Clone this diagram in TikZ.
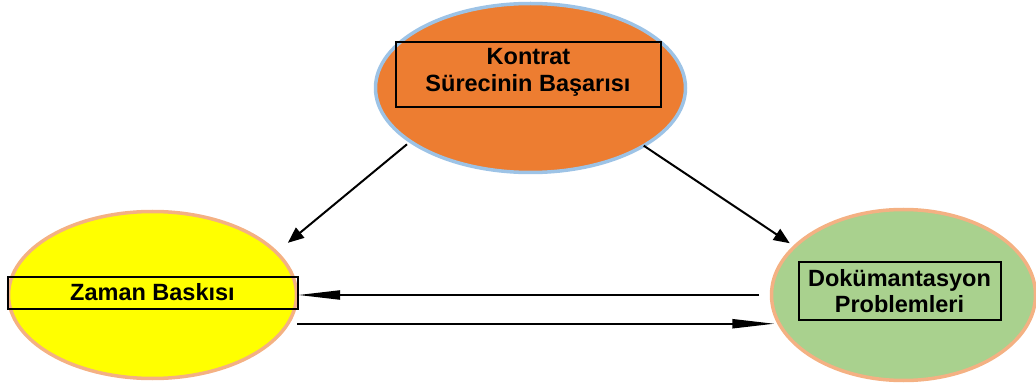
\documentclass[tikz,border=0pt]{standalone}
\usepackage{fontspec}
\setmainfont{Liberation Sans}
\usetikzlibrary{shapes.geometric,arrows.meta}

\definecolor{orangefill}{HTML}{ED7D31}
\definecolor{blueedge}{HTML}{9DC3E6}
\definecolor{salmonedge}{HTML}{F4B183}
\definecolor{greenfill}{HTML}{A9D18E}
\definecolor{yellowfill}{HTML}{FFFF00}

\tikzset{
  bubble/.style={ellipse, line width=3.5pt, inner sep=0pt, outer sep=0pt},
  framebox/.style={rectangle, draw=black, line width=1.4pt, inner sep=0pt, outer sep=0pt},
  label text/.style={font=\fontsize{23.5}{26.5}\selectfont\bfseries, inner sep=0pt, anchor=base},
  slant arrow/.style={line width=2pt, -{Triangle[length=16pt,width=13pt]}},
  flat arrow/.style={line width=2pt, -{Triangle[length=42pt,width=9pt]}}
}

\begin{document}
\begin{tikzpicture}[x=1pt,y=-1pt]
  \useasboundingbox (0,0) rectangle (1036,390);

  % the three ellipses
  \node[bubble, draw=blueedge, fill=orangefill, minimum width=310pt, minimum height=169pt] (top) at (530.5,88) {};
  \node[bubble, draw=salmonedge, fill=yellowfill, minimum width=288pt, minimum height=167pt] (left) at (152.5,295) {};
  \node[bubble, draw=salmonedge, fill=greenfill, minimum width=264pt, minimum height=171pt] (right) at (903.5,295) {};

  % framed captions
  \node[framebox, minimum width=265pt, minimum height=65pt] (topbox) at (528.5,74.5) {};
  \node[label text] (toptxt1) at (528.5,65) {Kontrat};
  \node[label text] (toptxt2) at (528,91.5) {Sürecinin Başarısı};

  \node[framebox, minimum width=290pt, minimum height=32pt] (leftbox) at (153,293) {};
  \node[label text] (lefttxt) at (152.5,300) {Zaman Baskısı};

  \node[framebox, minimum width=202pt, minimum height=58pt] (rightbox) at (900,291) {};
  \node[label text] (righttxt1) at (899.5,286) {Dokümantasyon};
  \node[label text] (righttxt2) at (899.5,312.5) {Problemleri};

  % connectors
  \draw[slant arrow, shorten <=4.5pt, shorten >=15pt] (top.204) -- (left.19);
  \draw[slant arrow, shorten >=6pt] (top.333.6) -- (right.156.4);
  \draw[flat arrow, shorten <=12.5pt, shorten >=1.5pt] (right.180) -- (left.0);
  \draw[flat arrow, shorten <=9.4pt, shorten >=3.6pt] (left.348.4) -- (left.348.4 -| right.192.5);
\end{tikzpicture}
\end{document}
